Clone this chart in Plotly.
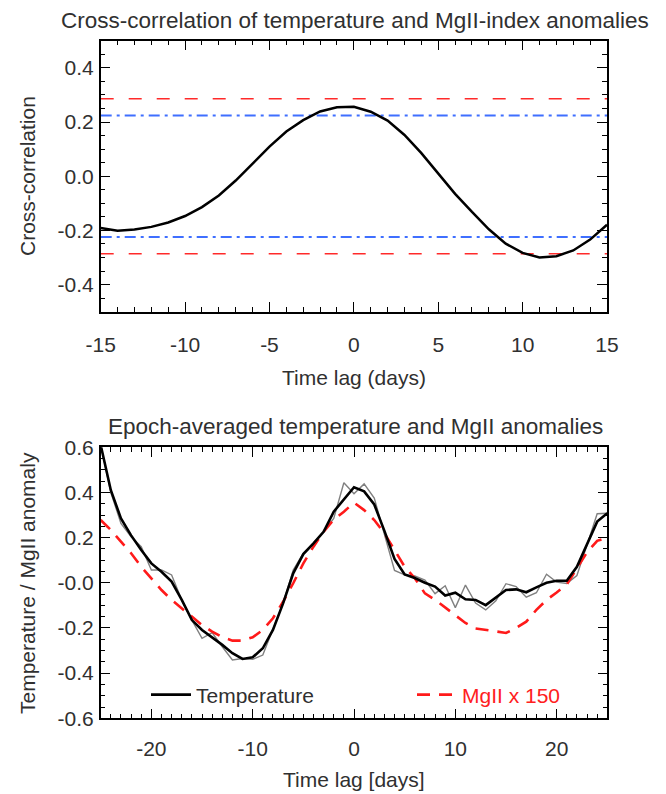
import plotly.graph_objects as go

# ---------------- data: top panel ----------------
lags = list(range(-15, 16))
xcorr = [-0.191, -0.201, -0.197, -0.187, -0.171, -0.147, -0.114, -0.071, -0.016, 0.046,
         0.109, 0.165, 0.207, 0.239, 0.254, 0.256, 0.238, 0.205, 0.152, 0.085,
         0.011, -0.065, -0.132, -0.196, -0.249, -0.283, -0.300, -0.295, -0.274, -0.234,
         -0.179]
sig_red = 0.286   # red dashed significance level
sig_blue = 0.224  # blue dash-dot significance level

# ---------------- data: bottom panel ----------------
days = list(range(-25, 26))
temp_raw = [0.61, 0.40, 0.263, 0.204, 0.16, 0.057, 0.057, 0.035, -0.076, -0.165,
            -0.246, -0.221, -0.283, -0.342, -0.335, -0.339, -0.32, -0.209, -0.091, 0.057,
            0.131, 0.175, 0.226, 0.285, 0.443, 0.394, 0.438, 0.375, 0.22, 0.055,
            0.035, 0.030, 0.012, -0.048, -0.013, -0.11, -0.01, -0.09, -0.12, -0.08,
            -0.004, -0.017, -0.064, -0.044, 0.038, 0.003, -0.003, 0.032, 0.168, 0.306,
            0.308]
temp_smooth = [0.61, 0.41, 0.285, 0.21, 0.145, 0.086, 0.049, 0.005, -0.076, -0.165,
               -0.209, -0.241, -0.275, -0.312, -0.337, -0.33, -0.29, -0.209, -0.091, 0.042,
               0.127, 0.175, 0.226, 0.315, 0.367, 0.423, 0.405, 0.347, 0.23, 0.106,
               0.037, 0.021, 0.0, -0.017, -0.056, -0.044, -0.073, -0.076, -0.099, -0.064,
               -0.032, -0.029, -0.042, -0.02, 0.0, 0.009, 0.009, 0.071, 0.17, 0.271,
               0.308]
mg_scaled = [0.278, 0.234, 0.182, 0.131, 0.071, 0.02, -0.032, -0.076, -0.113, -0.15,
             -0.187, -0.216, -0.241, -0.256, -0.256, -0.241, -0.209, -0.157, -0.084, -0.002,
             0.086, 0.16, 0.226, 0.28, 0.315, 0.355, 0.322, 0.278, 0.219, 0.145,
             0.071, 0.02, -0.047, -0.075, -0.11, -0.147, -0.178, -0.202, -0.209, -0.213,
             -0.222, -0.2, -0.172, -0.12, -0.076, -0.043, -0.007, 0.064, 0.135, 0.186,
             0.2]

top_yticks = [-0.4, -0.2, 0.0, 0.2, 0.4]
top_yticktext = ["-0.4", "-0.2", "0.0", "0.2", "0.4"]
top_xticks = [-15, -10, -5, 0, 5, 10, 15]
top_xticktext = ["-15", "-10", "-5", "0", "5", "10", "15"]
bot_yticks = [-0.6, -0.4, -0.2, 0.0, 0.2, 0.4, 0.6]
bot_yticktext = ["-0.6", "-0.4", "-0.2", "-0.0", "0.2", "0.4", "0.6"]
bot_xticks = [-20, -10, 0, 10, 20]
bot_xticktext = ["-20", "-10", "0", "10", "20"]

W, H = 666, 794
FONT = "Liberation Sans, Arial, Helvetica, sans-serif"
TXT = "#303030"

fig = go.Figure()

# top panel
fig.add_trace(go.Scatter(x=[lags[0], lags[-1]], y=[sig_red, sig_red], mode="lines",
                         line=dict(color="#ff2a2a", width=1.6, dash="13px,15px"),
                         showlegend=False, xaxis="x", yaxis="y"))
fig.add_trace(go.Scatter(x=[lags[0], lags[-1]], y=[-sig_red, -sig_red], mode="lines",
                         line=dict(color="#ff2a2a", width=1.6, dash="13px,15px"),
                         showlegend=False, xaxis="x", yaxis="y"))
fig.add_trace(go.Scatter(x=[lags[0], lags[-1]], y=[sig_blue, sig_blue], mode="lines",
                         line=dict(color="#3f6fff", width=2, dash="11px,5px,3px,5px"),
                         showlegend=False, xaxis="x", yaxis="y"))
fig.add_trace(go.Scatter(x=[lags[0], lags[-1]], y=[-sig_blue, -sig_blue], mode="lines",
                         line=dict(color="#3f6fff", width=2, dash="11px,5px,3px,5px"),
                         showlegend=False, xaxis="x", yaxis="y"))
fig.add_trace(go.Scatter(x=lags, y=xcorr, mode="lines",
                         line=dict(color="black", width=2.5),
                         showlegend=False, xaxis="x", yaxis="y"))

# bottom panel
fig.add_trace(go.Scatter(x=days, y=temp_raw, mode="lines",
                         line=dict(color="#808080", width=1.4),
                         showlegend=False, xaxis="x2", yaxis="y2"))
fig.add_trace(go.Scatter(x=days, y=mg_scaled, mode="lines", name="MgII x 150",
                         line=dict(color="#ff1a1a", width=2.6, dash="13px,9px"),
                         legend="legend2", xaxis="x2", yaxis="y2"))
fig.add_trace(go.Scatter(x=days, y=temp_smooth, mode="lines", name="Temperature",
                         line=dict(color="black", width=2.6),
                         legend="legend", xaxis="x2", yaxis="y2"))

# plot frames in pixels
tx0, tx1, ty0, ty1 = 100.7, 607.0, 40.7, 311.7
bx0, bx1, by0, by1 = 100.7, 607.3, 447.3, 718.3

def px_dom_x(a, b):
    return [a / W, b / W]

def px_dom_y(top, bot):
    return [1 - bot / H, 1 - top / H]

axis_common = dict(showline=True, linecolor="black", linewidth=1.5, mirror="allticks",
                   ticks="inside", ticklen=10, tickwidth=1.3, tickcolor="black",
                   showgrid=False, zeroline=False, automargin=False,
                   tickfont=dict(family=FONT, size=21, color=TXT))

fig.update_layout(
    width=W, height=H, autosize=False,
    margin=dict(l=0, r=0, t=0, b=0, pad=0, autoexpand=False),
    paper_bgcolor="white", plot_bgcolor="white",
    font=dict(family=FONT, size=21, color=TXT),
    xaxis=dict(domain=px_dom_x(tx0, tx1), anchor="y", range=[-15, 15],
               tickmode="array", tickvals=top_xticks, ticktext=top_xticktext,
               ticklabelstandoff=13,
               minor=dict(tickmode="linear", tick0=0, dtick=1, ticks="inside",
                          ticklen=5, tickcolor="black", tickwidth=1.2),
               **axis_common),
    yaxis=dict(domain=px_dom_y(ty0, ty1), anchor="x", range=[-0.5, 0.5],
               tickmode="array", tickvals=top_yticks, ticktext=top_yticktext,
               ticklabelstandoff=1,
               minor=dict(tickmode="linear", tick0=0, dtick=0.05, ticks="inside",
                          ticklen=5, tickcolor="black", tickwidth=1.2),
               **axis_common),
    xaxis2=dict(domain=px_dom_x(bx0, bx1), anchor="y2", range=[-25, 25],
                tickmode="array", tickvals=bot_xticks, ticktext=bot_xticktext,
                ticklabelstandoff=11,
                minor=dict(tickmode="linear", tick0=0, dtick=1, ticks="inside",
                           ticklen=5, tickcolor="black", tickwidth=1.2),
                **axis_common),
    yaxis2=dict(domain=px_dom_y(by0, by1), anchor="x2", range=[-0.6, 0.6],
                tickmode="array", tickvals=bot_yticks, ticktext=bot_yticktext,
                ticklabelstandoff=1,
                minor=dict(tickmode="linear", tick0=0, dtick=0.05, ticks="inside",
                           ticklen=5, tickcolor="black", tickwidth=1.2),
                **axis_common),
    legend=dict(x=146 / W, y=1 - 695 / H, xanchor="left", yanchor="middle",
                bgcolor="rgba(0,0,0,0)", borderwidth=0, itemwidth=40,
                font=dict(family=FONT, size=21, color=TXT)),
    legend2=dict(x=412 / W, y=1 - 695 / H, xanchor="left", yanchor="middle",
                 bgcolor="rgba(0,0,0,0)", borderwidth=0, itemwidth=40,
                 font=dict(family=FONT, size=21, color="#ff2020")),
)

ann = [
    dict(text="Cross-correlation of temperature and MgII-index anomalies",
         x=355 / W, y=1 - 20 / H, size=22.5),
    dict(text="Time lag (days)", x=354 / W, y=1 - 377 / H, size=21),
    dict(text="Epoch-averaged temperature and MgII anomalies",
         x=355 / W, y=1 - 427 / H, size=22.5),
    dict(text="Time lag [days]", x=354 / W, y=1 - 779 / H, size=21),
]
for a in ann:
    fig.add_annotation(text=a["text"], x=a["x"], y=a["y"], xref="paper", yref="paper",
                       xanchor="center", yanchor="middle", showarrow=False,
                       font=dict(family=FONT, size=a["size"], color=TXT))
fig.add_annotation(text="Cross-correlation", x=27 / W, y=1 - 176 / H, xref="paper",
                   yref="paper", textangle=-90, showarrow=False, xanchor="center",
                   yanchor="middle", font=dict(family=FONT, size=21, color=TXT))
fig.add_annotation(text="Temperature / MgII anomaly", x=27 / W, y=1 - 583 / H,
                   xref="paper", yref="paper", textangle=-90, showarrow=False,
                   xanchor="center", yanchor="middle",
                   font=dict(family=FONT, size=21, color=TXT))

fig.write_html(
    "out.html",
    config={"displayModeBar": False},
    post_script="document.body.style.margin='0';document.body.style.overflow='hidden';",
)
